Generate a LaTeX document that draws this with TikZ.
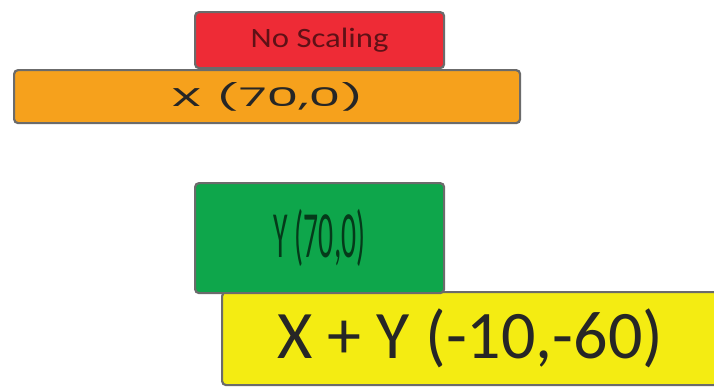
\documentclass[tikz,border=0pt]{standalone}
\usepackage{fontspec}
\setmainfont{Carlito}
\newfontfamily\geo{Poppins}
\usepackage{graphicx}
\definecolor{cred}{HTML}{EE2B36}
\definecolor{corange}{HTML}{F6A11C}
\definecolor{cgreen}{HTML}{0EA64B}
\definecolor{cyellow}{HTML}{F4EC12}
\definecolor{cedge}{HTML}{6B6B6B}
\tikzset{
  bar/.style={draw=cedge, line width=2.2pt, rounded corners=4pt, anchor=north west, inner sep=0pt, align=center},
}
\begin{document}
\begin{tikzpicture}[x=1pt,y=-1pt]
\useasboundingbox (0,0) rectangle (714,386);
\fill[white] (0,0) rectangle (714,386);
\node[bar, fill=cred, minimum width=249pt, minimum height=56pt, text=cred!40!black] (ns) at (194,11) {\scalebox{1.17}[1]{\fontsize{28}{28}\selectfont No Scaling}};
\node[bar, fill=corange, minimum width=506pt, minimum height=53pt, text=black!85] (x) at (13,69) {\resizebox{193pt}{24pt}{\geo X (70,0)}};
\node[bar, fill=cyellow, minimum width=496pt, minimum height=93pt, text=black!85, font=\fontsize{68}{68}\selectfont] (xy) at (221,291) {X + Y (-10,-60)};
\node[bar, fill=cgreen, minimum width=249pt, minimum height=110pt, text=cgreen!35!black] (y) at (194,182) {\scalebox{0.45}[1]{\fontsize{66}{66}\selectfont Y (70,0)}};
\end{tikzpicture}
\end{document}
